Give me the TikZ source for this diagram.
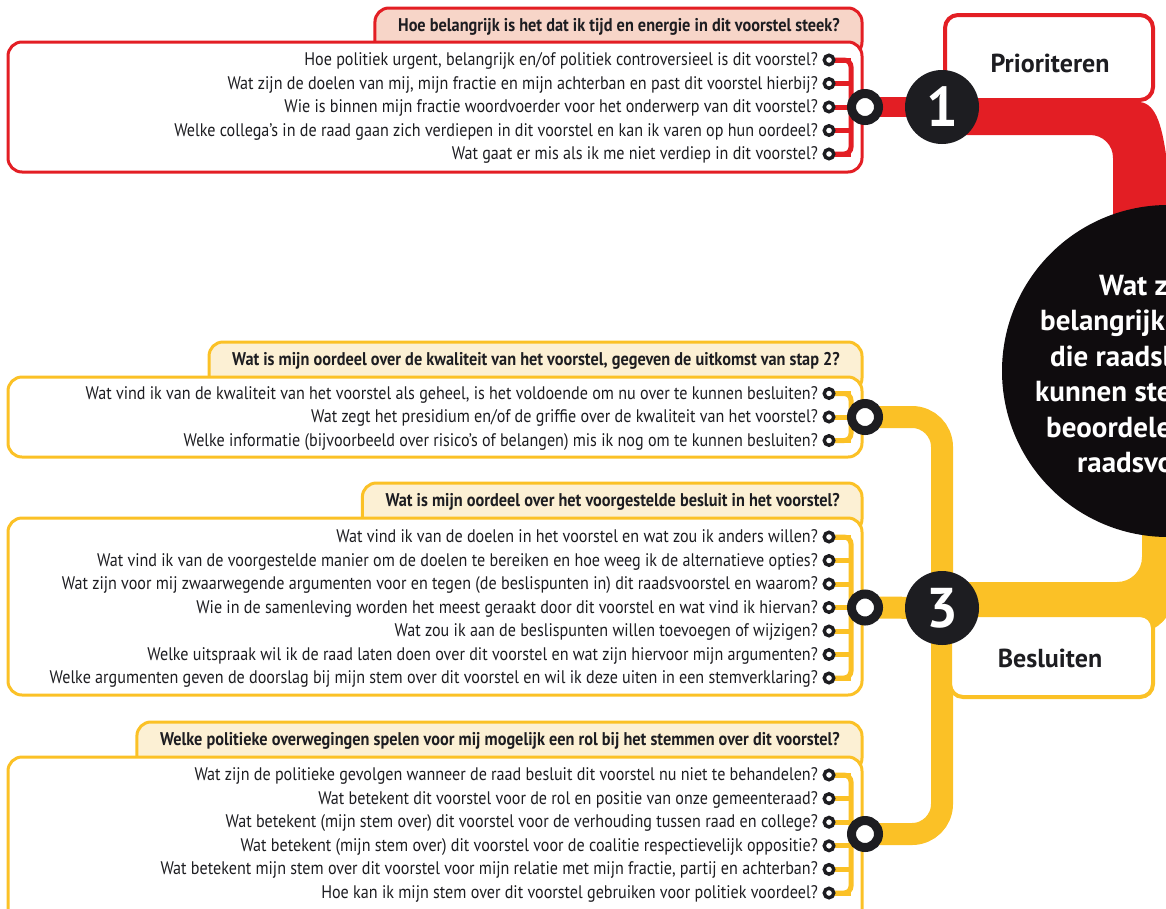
\documentclass[tikz,border=0pt]{standalone}
\usepackage{fontspec}
\setmainfont{PT Sans}[FakeStretch=0.885]
\newfontfamily\widefont{PT Sans}
\usetikzlibrary{calc}
\definecolor{cred}{RGB}{227,30,36}
\definecolor{cpink}{RGB}{247,213,200}
\definecolor{cyel}{RGB}{251,193,38}
\definecolor{ccream}{RGB}{252,240,212}
\definecolor{cink}{RGB}{29,29,33}
\definecolor{cblk}{RGB}{15,12,14}
\pgfdeclarelayer{bg}
\pgfdeclarelayer{mid}
\pgfsetlayers{bg,mid,main}
\tikzset{
  qtext/.style={anchor=base east, inner sep=0pt, text=cink, font=\fontsize{18.2}{20}\selectfont},
  htext/.style={anchor=base east, inner sep=0pt, text=cink, font=\bfseries\fontsize{18.4}{20}\selectfont},
  qdot/.style={circle, draw=cink, fill=white, line width=3.4pt, minimum size=9.5pt, inner sep=0pt},
  qring/.style={circle, draw=cink, fill=white, line width=9pt, minimum size=27pt, inner sep=0pt},
  stepcirc/.style={circle, fill=cink, text=white, minimum size=74pt, inner sep=0pt, font=\widefont\bfseries\fontsize{56}{56}\selectfont},
  boxr/.style={draw=cred, fill=white, line width=3pt, rounded corners=14pt},
  tabr/.style={draw=cred, fill=cpink, line width=3pt, rounded corners=14pt},
  boxy/.style={draw=cyel, fill=white, line width=3pt, rounded corners=14pt},
  taby/.style={draw=cyel, fill=ccream, line width=3pt, rounded corners=14pt},
  brk/.style={line width=5pt, rounded corners=7pt},
  bigbox/.style={line width=4pt, fill=white, rounded corners=13pt},
  biglabel/.style={anchor=base, inner sep=0pt, text=cink, font=\widefont\bfseries\fontsize{26}{26}\selectfont},
  circtext/.style={anchor=base west, inner sep=0pt, text=white, font=\widefont\bfseries\fontsize{29}{29}\selectfont},
}
\begin{document}
\begin{tikzpicture}[x=1pt,y=-1pt]
\useasboundingbox (0,0) rectangle (1166,908);
\clip (0,0) rectangle (1166,908);

% ================= RED BOX (step 1) =================
\node[htext] (hr) at (840,31) {Hoe belangrijk is het dat ik tijd en energie in dit voorstel steek?};
\coordinate (hrl) at ($(hr.west)+(-23,0)$);
\begin{pgfonlayer}{bg}
  \path[tabr] (hrl |- 0,8) rectangle (862,56);
  \path[boxr] (8,42) rectangle (862,172);
\end{pgfonlayer}
\foreach \t [count=\i] in {%
  {Hoe politiek urgent, belangrijk en/of politiek controversieel is dit voorstel?},
  {Wat zijn de doelen van mij, mijn fractie en mijn achterban en past dit voorstel hierbij?},
  {Wie is binnen mijn fractie woordvoerder voor het onderwerp van dit voorstel?},
  {Welke collega’s in de raad gaan zich verdiepen in dit voorstel en kan ik varen op hun oordeel?},
  {Wat gaat er mis als ik me niet verdiep in dit voorstel?}} {
  \pgfmathsetmacro\yy{36.5+23.5*\i}
  \node[qtext] (rt\i) at (818,\yy+5.5) {\t};
  \node[qdot] (rd\i) at (829,\yy) {};
  \begin{pgfonlayer}{mid}
    \draw[brk, cred] (rd\i.center) -- (851,\yy);
  \end{pgfonlayer}
}
\node[qring] (rr) at (865,107) {};
\begin{pgfonlayer}{mid}
  \draw[brk, cred] (rd1.center) -- (851,60) -- (851,154) -- (rd5.center);
  \draw[cred, line width=5pt] (851,107) -- (rr.center);
\end{pgfonlayer}

% ================= YELLOW BOX A =================
\node[htext] (ha) at (840,365.5) {Wat is mijn oordeel over de kwaliteit van het voorstel, gegeven de uitkomst van stap 2?};
\coordinate (hal) at ($(ha.west)+(-23,0)$);
\begin{pgfonlayer}{bg}
  \path[taby] (hal |- 0,342) rectangle (862,392);
  \path[boxy] (8,377) rectangle (862,457);
\end{pgfonlayer}
\foreach \t [count=\i] in {%
  {Wat vind ik van de kwaliteit van het voorstel als geheel, is het voldoende om nu over te kunnen besluiten?},
  {Wat zegt het presidium en/of de griffie over de kwaliteit van het voorstel?},
  {Welke informatie (bijvoorbeeld over risico’s of belangen) mis ik nog om te kunnen besluiten?}} {
  \pgfmathsetmacro\yy{370+23.5*\i}
  \node[qtext] (at\i) at (818,\yy+5.5) {\t};
  \node[qdot] (ad\i) at (829,\yy) {};
  \begin{pgfonlayer}{mid}
    \draw[brk, cyel] (ad\i.center) -- (851,\yy);
  \end{pgfonlayer}
}
\node[qring] (ra) at (865,417) {};
\begin{pgfonlayer}{mid}
  \draw[brk, cyel] (ad1.center) -- (851,393.5) -- (851,440.5) -- (ad3.center);
  \draw[cyel, line width=5pt] (851,417) -- (ra.center);
\end{pgfonlayer}

% ================= YELLOW BOX B =================
\node[htext] (hb) at (840,506.5) {Wat is mijn oordeel over het voorgestelde besluit in het voorstel?};
\coordinate (hbl) at ($(hb.west)+(-23,0)$);
\begin{pgfonlayer}{bg}
  \path[taby] (hbl |- 0,483) rectangle (862,533);
  \path[boxy] (8,518) rectangle (862,695);
\end{pgfonlayer}
\foreach \t [count=\i] in {%
  {Wat vind ik van de doelen in het voorstel en wat zou ik anders willen?},
  {Wat vind ik van de voorgestelde manier om de doelen te bereiken en hoe weeg ik de alternatieve opties?},
  {Wat zijn voor mij zwaarwegende argumenten voor en tegen (de beslispunten in) dit raadsvoorstel en waarom?},
  {Wie in de samenleving worden het meest geraakt door dit voorstel en wat vind ik hiervan?},
  {Wat zou ik aan de beslispunten willen toevoegen of wijzigen?},
  {Welke uitspraak wil ik de raad laten doen over dit voorstel en wat zijn hiervoor mijn argumenten?},
  {Welke argumenten geven de doorslag bij mijn stem over dit voorstel en wil ik deze uiten in een stemverklaring?}} {
  \pgfmathsetmacro\yy{513.5+23.5*\i}
  \node[qtext] (bt\i) at (818,\yy+5.5) {\t};
  \node[qdot] (bd\i) at (829,\yy) {};
  \begin{pgfonlayer}{mid}
    \draw[brk, cyel] (bd\i.center) -- (851,\yy);
  \end{pgfonlayer}
}
\node[qring] (rb) at (865,607.5) {};
\begin{pgfonlayer}{mid}
  \draw[brk, cyel] (bd1.center) -- (851,537) -- (851,678) -- (bd7.center);
  \draw[cyel, line width=5pt] (851,607.5) -- (rb.center);
\end{pgfonlayer}

% ================= YELLOW BOX C =================
\node[htext] (hc) at (840,745.5) {Welke politieke overwegingen spelen voor mij mogelijk een rol bij het stemmen over dit voorstel?};
\coordinate (hcl) at ($(hc.west)+(-23,0)$);
\begin{pgfonlayer}{bg}
  \path[taby] (hcl |- 0,722) rectangle (862,772);
  \path[boxy] (8,757) rectangle (862,940);
\end{pgfonlayer}
\foreach \t [count=\i] in {%
  {Wat zijn de politieke gevolgen wanneer de raad besluit dit voorstel nu niet te behandelen?},
  {Wat betekent dit voorstel voor de rol en positie van onze gemeenteraad?},
  {Wat betekent (mijn stem over) dit voorstel voor de verhouding tussen raad en college?},
  {Wat betekent (mijn stem over) dit voorstel voor de coalitie respectievelijk oppositie?},
  {Wat betekent mijn stem over dit voorstel voor mijn relatie met mijn fractie, partij en achterban?},
  {Hoe kan ik mijn stem over dit voorstel gebruiken voor politiek voordeel?}} {
  \pgfmathsetmacro\yy{751.4+23.6*\i}
  \node[qtext] (ct\i) at (818,\yy+5.5) {\t};
  \node[qdot] (cd\i) at (829,\yy) {};
  \begin{pgfonlayer}{mid}
    \draw[brk, cyel] (cd\i.center) -- (851,\yy);
  \end{pgfonlayer}
}
\node[qring] (rc) at (865,834) {};
\begin{pgfonlayer}{mid}
  \draw[brk, cyel] (cd1.center) -- (851,775) -- (851,893) -- (cd6.center);
  \draw[cyel, line width=5pt] (851,834) -- (rc.center);
\end{pgfonlayer}

% ================= RIGHT SIDE =================
% label boxes
\path[bigbox, draw=cred] (945,15) rectangle (1153,100);
\node[biglabel] (prio) at (1050,72) {Prioriteren};
\path[bigbox, draw=cyel] (950,615) rectangle (1153,697);
\node[biglabel] (besl) at (1050,667) {Besluiten};

% central circle
\node[circle, fill=cblk, minimum size=332pt, inner sep=0pt] (core) at (1168,371) {};
\node[circtext] (c1) at (1099,295) {Wat z};
\node[circtext] (c2) at (1040,330.5) {belangrijk};
\node[circtext] (c3) at (1050,366) {die raadsl};
\node[circtext] (c4) at (1035,401.5) {kunnen ste};
\node[circtext] (c5) at (1046,437) {beoordele};
\node[circtext] (c6) at (1077,472.5) {raadsvo};

% step circles
\node[stepcirc] (s1) at (942,107) {1};
\node[stepcirc] (s3) at (942,608) {3};

\begin{pgfonlayer}{mid}
  % red bands
  \draw[cred, line width=20pt] (rr.center) -- (s1.center);
  \fill[cred] (s1.center |- 0,102) -- (1140,102) .. controls (1157,104) and (1163,128) .. (1168,170)
     -- (1250,170) -- (1250,300) -- (1113,300) -- (1113,158)
     .. controls (1113,145) and (1103,135) .. (1090,135) -- (s1.center |- 0,135) -- cycle;
  % yellow bands
  \draw[cyel, line width=22pt, rounded corners=30pt] (ra.center) -- (ra.center -| s3.center) -- (rc.center -| s3.center) -- (rc.center);
  \draw[cyel, line width=22pt] (rb.center) -- (s3.center);
  \fill[cyel] (s3.center |- 0,582) -- (1117,582) .. controls (1131,582) and (1142,571) .. (1142,557)
     -- (1142,480) -- (1250,480) -- (1250,600) -- (1175,600)
     .. controls (1168,618) and (1160,630) .. (1140,632) -- (s3.center |- 0,632) -- cycle;
\end{pgfonlayer}
\end{tikzpicture}
\end{document}
